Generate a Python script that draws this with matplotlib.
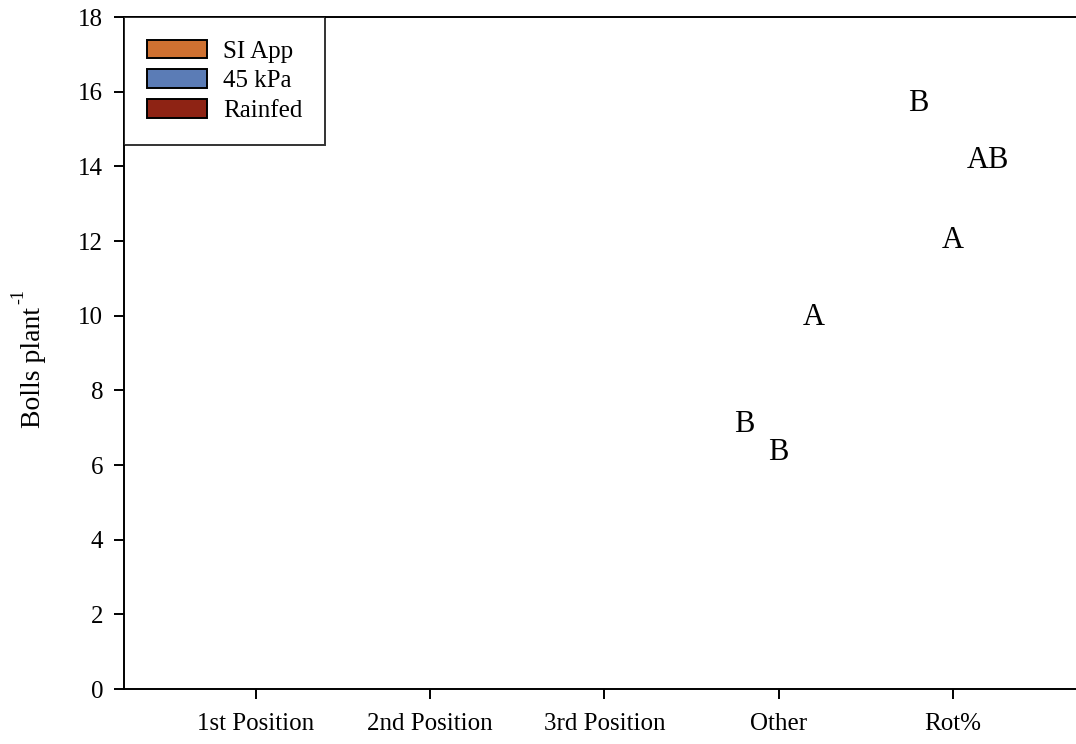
import matplotlib
matplotlib.use("Agg")
import matplotlib.pyplot as plt
from matplotlib.patches import Patch

categories = ["1st Position", "2nd Position", "3rd Position", "Other", "Rot%"]
series = ["SI App", "45 kPa", "Rainfed"]
colors = ["#CF7131", "#5B7CB6", "#8E2314"]

# significance letters (category index, series index, letter, height)
letter_cat = [3, 3, 3, 4, 4, 4]
letter_ser = [0, 1, 2, 0, 1, 2]
letter_txt = ["B", "B", "A", "B", "A", "AB"]
letter_y = [7.08, 6.34, 9.95, 15.67, 12.00, 14.16]

yticks = [0, 2, 4, 6, 8, 10, 12, 14, 16, 18]

plt.rcParams["font.family"] = ["Liberation Serif", "DejaVu Serif"]

fig = plt.figure(figsize=(10.76, 7.44), dpi=100)
ax = fig.add_axes([124 / 1076, 1 - 689 / 744, 1 - 124 / 1076, (689 - 17) / 744])

offset = 0.2
for c, s, t, y in zip(letter_cat, letter_ser, letter_txt, letter_y):
    ax.text(c + (s - 1) * offset, y, t, ha="center", va="center", fontsize=22)

ax.set_xlim(-0.7575, 4.706)
ax.set_ylim(0, 18)
ax.set_xticks(range(len(categories)))
ax.set_xticklabels(categories, fontsize=18)
ax.set_yticks(yticks)
ax.set_yticklabels([str(v) for v in yticks], fontsize=18)
ax.tick_params(axis="x", direction="out", length=7, width=1.4, pad=10)
ax.tick_params(axis="y", direction="out", length=7, width=1.4, pad=8)
for sp in ["left", "top", "bottom"]:
    ax.spines[sp].set_linewidth(1.4)
ax.spines["right"].set_visible(False)

# y-axis label with a hyphen superscript, as in the original
fig.text(34 / 1076, 1 - 367 / 744, "Bolls plant", rotation=90, ha="center", va="center", fontsize=20)
fig.text(18.5 / 1076, 1 - 304 / 744, "-1", rotation=90, ha="center", va="bottom", fontsize=13)

handles = [Patch(facecolor=c, edgecolor="black", linewidth=1.4, label=s) for s, c in zip(series, colors)]
leg = ax.legend(handles=handles, loc="upper left", bbox_to_anchor=(0, 1), borderaxespad=0,
                fontsize=18, frameon=True, fancybox=False, edgecolor="black",
                handlelength=2.4, handleheight=0.76, handletextpad=0.64, labelspacing=0.27,
                borderpad=0.91)
leg.get_frame().set_linewidth(1.4)

fig.savefig("out.png", dpi=100)
